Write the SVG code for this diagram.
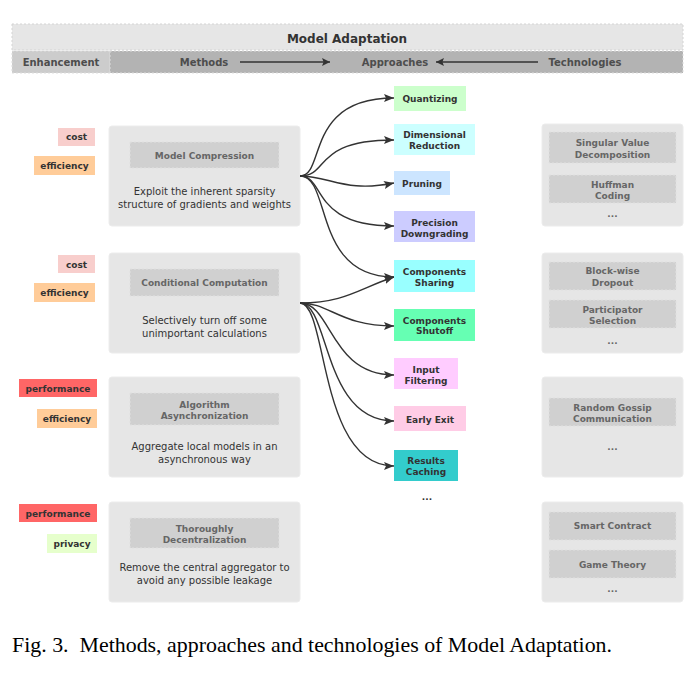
<svg xmlns="http://www.w3.org/2000/svg" width="697" height="696" viewBox="0 0 697 696">
<defs>
<marker id="ah" viewBox="0 0 10 10" refX="10" refY="5" markerWidth="10" markerHeight="10" markerUnits="userSpaceOnUse" orient="auto"><path d="M0,1 L10,5 L0,9 L2,5 Z" fill="#333"/></marker>
<marker id="ahh" viewBox="0 0 10 10" refX="10" refY="5" markerWidth="10" markerHeight="8" markerUnits="userSpaceOnUse" orient="auto"><path d="M0,0 L10,5 L0,10 L2,5 Z" fill="#333"/></marker>
</defs>
<style>
text{font-family:"DejaVu Sans",Verdana,sans-serif;text-anchor:middle}
.hd{font-size:12px;fill:#333;font-weight:bold}
.hs{font-size:10px;fill:#4d4d4d;font-weight:bold}
.tag{font-size:9px;font-weight:bold;fill:#333}
.mbox{fill:#e6e6e6;stroke:#ececec;stroke-width:1}
.ibox{fill:#d0d0d0;stroke:#e0e0e0;stroke-dasharray:2 2;stroke-width:1}
.it{font-size:9px;font-weight:bold;fill:#666}
.dt{font-size:10px;fill:#333}
.ap{font-size:9px;font-weight:bold;fill:#333}
.cn{fill:none;stroke:#333;stroke-width:1.4}
</style>
<rect width="697" height="696" fill="#fff"/>
<g id="header">
<rect x="12" y="24" width="671" height="26" fill="#e6e6e6" stroke="#d4d4d4" stroke-dasharray="2 2"/>
<text class="hd" x="347" y="43">Model Adaptation</text>
<rect x="12" y="51" width="98" height="22" fill="#cccccc" stroke="#dddddd" stroke-dasharray="2 2"/>
<rect x="110" y="51" width="573" height="22" fill="#b3b3b3" stroke="#dddddd" stroke-dasharray="2 2"/>
<text class="hs" x="61" y="66">Enhancement</text>
<text class="hs" x="204" y="66">Methods</text>
<text class="hs" x="395" y="66">Approaches</text>
<text class="hs" x="585" y="66">Technologies</text>
<line x1="240" y1="62" x2="330" y2="62" stroke="#333" stroke-width="1.3" marker-end="url(#ahh)"/>
<line x1="538" y1="62" x2="436" y2="62" stroke="#333" stroke-width="1.3" marker-end="url(#ahh)"/>
</g>
<g id="tags">
<rect x="58" y="128" width="37" height="18" fill="#f8cecc"/><text class="tag" x="76.5" y="140">cost</text>
<rect x="34" y="156" width="61" height="19" fill="#ffcc99"/><text class="tag" x="64.5" y="169">efficiency</text>
<rect x="58" y="255" width="37" height="18" fill="#f8cecc"/><text class="tag" x="76.5" y="268">cost</text>
<rect x="34" y="283" width="61" height="19" fill="#ffcc99"/><text class="tag" x="64.5" y="296">efficiency</text>
<rect x="19" y="379" width="78" height="18" fill="#ff6666"/><text class="tag" x="58" y="392">performance</text>
<rect x="37" y="409" width="60" height="19" fill="#ffcc99"/><text class="tag" x="67" y="422">efficiency</text>
<rect x="19" y="504" width="78" height="18" fill="#ff6666"/><text class="tag" x="58" y="517">performance</text>
<rect x="47" y="534" width="50" height="19" fill="#e6ffcc"/><text class="tag" x="72" y="547">privacy</text>
</g>
<g id="method-compression">
<rect class="mbox" x="109" y="126" width="191" height="100" rx="3"/>
<rect class="ibox" x="130" y="142" width="149" height="26"/>
<text class="it" x="204.5" y="159">Model Compression</text>
<text class="dt" x="204.5" y="195">Exploit the inherent sparsity</text>
<text class="dt" x="204.5" y="208">structure of gradients and weights</text>
</g>
<g id="method-conditional">
<rect class="mbox" x="109" y="253" width="191" height="100" rx="3"/>
<rect class="ibox" x="130" y="269" width="149" height="27"/>
<text class="it" x="204.5" y="286">Conditional Computation</text>
<text class="dt" x="204.5" y="324">Selectively turn off some</text>
<text class="dt" x="204.5" y="337">unimportant calculations</text>
</g>
<g id="method-async">
<rect class="mbox" x="109" y="377" width="191" height="100" rx="3"/>
<rect class="ibox" x="130" y="393" width="149" height="32"/>
<text class="it" x="204.5" y="408">Algorithm</text>
<text class="it" x="204.5" y="419">Asynchronization</text>
<text class="dt" x="204.5" y="450">Aggregate local models in an</text>
<text class="dt" x="204.5" y="463">asynchronous way</text>
</g>
<g id="method-decentral">
<rect class="mbox" x="109" y="502" width="191" height="100" rx="3"/>
<rect class="ibox" x="130" y="518" width="149" height="30"/>
<text class="it" x="204.5" y="532">Thoroughly</text>
<text class="it" x="204.5" y="543">Decentralization</text>
<text class="dt" x="204.5" y="571">Remove the central aggregator to</text>
<text class="dt" x="204.5" y="584">avoid any possible leakage</text>
</g>
<g id="connectors">
<path class="cn" d="M300,176 C326,176 304,98 394,98" marker-end="url(#ah)"/>
<path class="cn" d="M300,176 C330,176 312,140 394,140" marker-end="url(#ah)"/>
<path class="cn" d="M300,176 C330,176 345,193 394,183" marker-end="url(#ah)"/>
<path class="cn" d="M300,176 C326,176 310,226 394,226" marker-end="url(#ah)"/>
<path class="cn" d="M300,176 C332,176 312,277 394,277" marker-end="url(#ah)"/>
<path class="cn" d="M300,303 C345,303 360,288 394,277" marker-end="url(#ah)"/>
<path class="cn" d="M300,303 C330,303 340,326 394,326" marker-end="url(#ah)"/>
<path class="cn" d="M300,303 C332,303 330,375 394,375" marker-end="url(#ah)"/>
<path class="cn" d="M300,303 C330,303 322,421 394,421" marker-end="url(#ah)"/>
<path class="cn" d="M300,303 C328,303 318,466 394,466" marker-end="url(#ah)"/>
</g>
<g id="approach-quantizing"><rect x="394" y="86" width="72" height="25" fill="#ccffcc"/><text class="ap" x="430" y="102">Quantizing</text></g>
<g id="approach-dimred"><rect x="394" y="124" width="81" height="31" fill="#ccffff"/><text class="ap" x="434.5" y="138">Dimensional</text><text class="ap" x="434.5" y="149">Reduction</text></g>
<g id="approach-pruning"><rect x="394" y="171" width="56" height="24" fill="#cce5ff"/><text class="ap" x="422" y="187">Pruning</text></g>
<g id="approach-precision"><rect x="394" y="211" width="81" height="31" fill="#ccccff"/><text class="ap" x="434.5" y="226">Precision</text><text class="ap" x="434.5" y="237">Downgrading</text></g>
<g id="approach-sharing"><rect x="394" y="260" width="81" height="32" fill="#99ffff"/><text class="ap" x="434.5" y="275">Components</text><text class="ap" x="434.5" y="286">Sharing</text></g>
<g id="approach-shutoff"><rect x="394" y="309" width="81" height="32" fill="#66ffb3"/><text class="ap" x="434.5" y="324">Components</text><text class="ap" x="434.5" y="334">Shutoff</text></g>
<g id="approach-input"><rect x="394" y="358" width="64" height="31" fill="#ffccff"/><text class="ap" x="426" y="373">Input</text><text class="ap" x="426" y="384">Filtering</text></g>
<g id="approach-early"><rect x="394" y="406" width="72" height="25" fill="#ffcce6"/><text class="ap" x="430" y="423">Early Exit</text></g>
<g id="approach-caching"><rect x="394" y="450" width="64" height="31" fill="#33cccc"/><text class="ap" x="426" y="464">Results</text><text class="ap" x="426" y="475">Caching</text></g>
<text class="ap" x="427" y="500">...</text>
<g id="tech-1">
<rect class="mbox" x="542" y="124" width="141" height="102" rx="3"/>
<rect class="ibox" x="549" y="132" width="127" height="31"/>
<text class="it" x="612.5" y="146">Singular Value</text><text class="it" x="612.5" y="158">Decomposition</text>
<rect class="ibox" x="549" y="175" width="127" height="28"/>
<text class="it" x="612.5" y="188">Huffman</text><text class="it" x="612.5" y="199">Coding</text>
<text class="it" x="612.5" y="217">...</text>
</g>
<g id="tech-2">
<rect class="mbox" x="542" y="253" width="141" height="100" rx="3"/>
<rect class="ibox" x="549" y="262" width="127" height="28"/>
<text class="it" x="612.5" y="274">Block-wise</text><text class="it" x="612.5" y="286">Dropout</text>
<rect class="ibox" x="549" y="300" width="127" height="28"/>
<text class="it" x="612.5" y="313">Participator</text><text class="it" x="612.5" y="324">Selection</text>
<text class="it" x="612.5" y="344">...</text>
</g>
<g id="tech-3">
<rect class="mbox" x="542" y="377" width="141" height="100" rx="3"/>
<rect class="ibox" x="549" y="398" width="127" height="28"/>
<text class="it" x="612.5" y="411">Random Gossip</text><text class="it" x="612.5" y="422">Communication</text>
<text class="it" x="612.5" y="450">...</text>
</g>
<g id="tech-4">
<rect class="mbox" x="542" y="502" width="141" height="100" rx="3"/>
<rect class="ibox" x="549" y="512" width="127" height="28"/>
<text class="it" x="612.5" y="529">Smart Contract</text>
<rect class="ibox" x="549" y="550" width="127" height="28"/>
<text class="it" x="612.5" y="568">Game Theory</text>
<text class="it" x="612.5" y="592">...</text>
</g>
<text x="12" y="652" textLength="600" lengthAdjust="spacingAndGlyphs" style="font-family:'Liberation Serif','Times New Roman',serif;font-size:21px;text-anchor:start;fill:#000" xml:space="preserve">Fig. 3.  Methods, approaches and technologies of Model Adaptation.</text>
</svg>
